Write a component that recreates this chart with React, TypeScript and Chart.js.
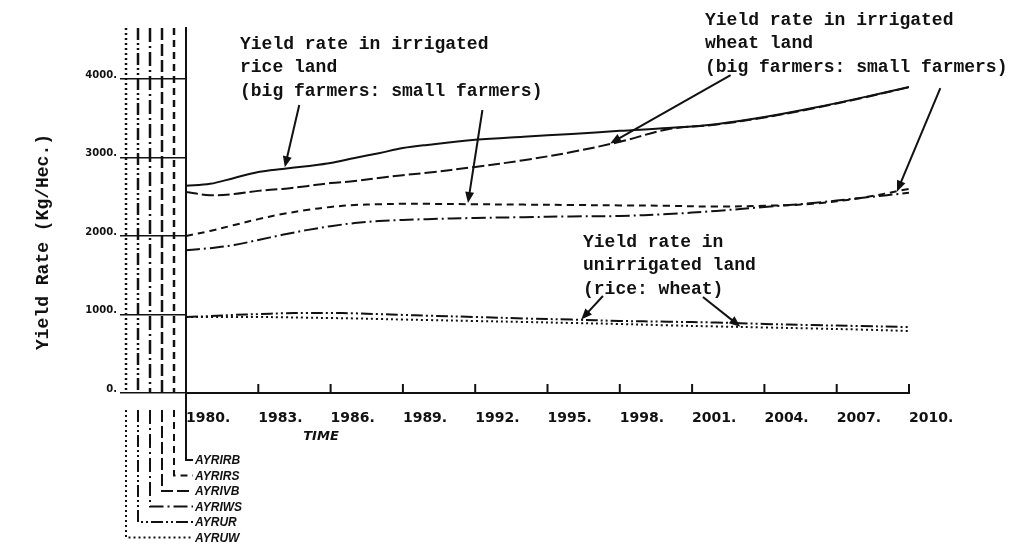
import { useEffect, useRef } from 'react';
import { Chart, registerables } from 'chart.js';

Chart.register(...registerables);

// ---------- data ----------
const years = [1980, 1981, 1982, 1983, 1984, 1985, 1986, 1987, 1988, 1989, 1990, 1992, 1994, 1996, 1998, 2000, 2002, 2004, 2006, 2008, 2010];

const seriesNames = ['AYRIRB', 'AYRIRS', 'AYRIVB', 'AYRIWS', 'AYRUR', 'AYRUW'];

// irrigated rice, big farmers (solid)
const ayrirb = [2640, 2665, 2740, 2815, 2855, 2890, 2930, 2995, 3055, 3120, 3160, 3225, 3265, 3300, 3340, 3375, 3425, 3515, 3630, 3760, 3900];
// irrigated rice, small farmers (short dash)
const ayrirs = [2000, 2065, 2140, 2215, 2280, 2330, 2370, 2395, 2405, 2410, 2410, 2405, 2400, 2395, 2390, 2385, 2375, 2385, 2410, 2485, 2600];
// irrigated wheat, big farmers (long dash)
const ayrivb = [2560, 2520, 2535, 2575, 2600, 2635, 2675, 2700, 2740, 2775, 2805, 2880, 2965, 3070, 3200, 3360, 3420, 3510, 3625, 3755, 3895];
// irrigated wheat, small farmers (dash-dot)
const ayriws = [1820, 1845, 1885, 1950, 2015, 2075, 2125, 2165, 2190, 2205, 2215, 2230, 2240, 2250, 2255, 2280, 2320, 2370, 2420, 2485, 2550];
// unirrigated rice (dash-dot-dot)
const ayrur = [968, 980, 995, 1005, 1015, 1020, 1020, 1015, 1005, 995, 985, 968, 950, 935, 918, 908, 898, 880, 865, 853, 840];
// unirrigated wheat (dotted)
const ayruw = [968, 968, 968, 968, 965, 960, 955, 950, 943, 936, 930, 917, 905, 892, 879, 862, 848, 835, 822, 808, 790];

const seriesValues = [ayrirb, ayrirs, ayrivb, ayriws, ayrur, ayruw];

const xMin = 1980;
const xMax = 2010;
const xStep = 3;
const yTickValues = [0, 1000, 2000, 3000, 4000];
const yMax = 4650;

const yTitle = 'Yield Rate (Kg/Hec.)';
const xTitle = 'TIME';

// ---------- styles ----------
const W = 1028;
const H = 546;
const INK = '#111';
const dashStyles = [[], [7, 5], [12, 4], [14, 4, 2, 4], [12, 3, 2, 3, 2, 3], [2, 3]];

const annotationBlocks = [
  { lines: ['Yield rate in irrigated', 'rice land', '(big farmers: small farmers)'], x: 240, y: 44 },
  { lines: ['Yield rate in irrigated', 'wheat land', '(big farmers: small farmers)'], x: 705, y: 20 },
  { lines: ['Yield rate in', 'unirrigated land', '(rice: wheat)'], x: 583, y: 242 },
];

// arrows in data coordinates: [year, value]
const arrows = [
  { from: [1984.7, 3670], to: [1984.1, 2875] },
  { from: [1992.3, 3605], to: [1991.7, 2420] },
  { from: [2002.6, 4050], to: [1997.6, 3180] },
  { from: [2011.3, 3885], to: [2009.5, 2565] },
  { from: [1997.3, 1236], to: [1996.4, 935] },
  { from: [2001.45, 1223], to: [2003.0, 845] },
];

const decorPlugin = {
  id: 'decor',
  afterDraw(chart: any) {
    const { ctx, chartArea, scales } = chart;
    const xs = scales.x;
    const ys = scales.y;
    const left = chartArea.left;
    const top = chartArea.top;
    const bottom = chartArea.bottom;
    ctx.save();
    ctx.strokeStyle = INK;
    ctx.fillStyle = INK;

    // inward x tick marks
    ctx.lineWidth = 2;
    ctx.setLineDash([]);
    xs.ticks.forEach((t: any) => {
      const px = xs.getPixelForValue(t.value);
      ctx.beginPath();
      ctx.moveTo(px, bottom);
      ctx.lineTo(px, bottom - 9);
      ctx.stroke();
    });

    // series key lines (vertical rules + legend)
    const legendTextX = 195;
    chart.data.datasets.forEach((ds: any, k: number) => {
      const vx = left - 12 * k;
      const ly = 460 + 15.5 * k;
      ctx.lineWidth = 2.5;
      ctx.setLineDash(ds.borderDash || []);
      if (k > 0) {
        ctx.beginPath();
        ctx.moveTo(vx, top);
        ctx.lineTo(vx, bottom);
        ctx.stroke();
      }
      ctx.lineWidth = 2;
      ctx.beginPath();
      ctx.moveTo(vx, k === 0 ? bottom : bottom + 17);
      ctx.lineTo(vx, ly);
      ctx.lineTo(legendTextX - 2, ly);
      ctx.stroke();
      ctx.setLineDash([]);
      ctx.font = 'italic bold 12px "Liberation Sans"';
      ctx.textAlign = 'left';
      ctx.textBaseline = 'middle';
      ctx.fillText(ds.label, legendTextX, ly + 1);
    });

    // annotations
    ctx.setLineDash([]);
    ctx.font = 'bold 18px "Liberation Mono"';
    ctx.textAlign = 'left';
    ctx.textBaseline = 'middle';
    annotationBlocks.forEach((b) => {
      b.lines.forEach((ln, i) => ctx.fillText(ln, b.x, b.y + i * 23.5));
    });

    ctx.lineWidth = 2;
    arrows.forEach((a) => {
      const x1 = xs.getPixelForValue(a.from[0]);
      const y1 = ys.getPixelForValue(a.from[1]);
      const x2 = xs.getPixelForValue(a.to[0]);
      const y2 = ys.getPixelForValue(a.to[1]);
      const ang = Math.atan2(y2 - y1, x2 - x1);
      const hl = 11;
      const hw = 4.5;
      ctx.beginPath();
      ctx.moveTo(x1, y1);
      ctx.lineTo(x2 - Math.cos(ang) * hl * 0.7, y2 - Math.sin(ang) * hl * 0.7);
      ctx.stroke();
      ctx.beginPath();
      ctx.moveTo(x2, y2);
      ctx.lineTo(x2 - Math.cos(ang) * hl - Math.sin(ang) * hw, y2 - Math.sin(ang) * hl + Math.cos(ang) * hw);
      ctx.lineTo(x2 - Math.cos(ang) * hl + Math.sin(ang) * hw, y2 - Math.sin(ang) * hl - Math.cos(ang) * hw);
      ctx.closePath();
      ctx.fill();
    });

    // axis titles
    ctx.font = 'italic bold 13px "DejaVu Sans"';
    ctx.textAlign = 'center';
    ctx.fillText(xTitle, 321, 437);

    ctx.font = 'bold 18px "Liberation Mono"';
    ctx.translate(43, 242);
    ctx.rotate(-Math.PI / 2);
    ctx.textAlign = 'center';
    ctx.textBaseline = 'middle';
    ctx.fillText(yTitle, 0, 0);
    ctx.restore();
  },
};

export default function App() {
  const ref = useRef<HTMLCanvasElement>(null);

  useEffect(() => {
    if (!ref.current) return;
    const chart = new Chart(ref.current, {
      type: 'line',
      data: {
        datasets: seriesNames.map((name, i) => ({
          label: name,
          data: years.map((yr, j) => ({ x: yr, y: seriesValues[i][j] })),
          borderColor: INK,
          borderWidth: 2,
          borderDash: dashStyles[i],
          pointRadius: 0,
          tension: 0.35,
          fill: false,
        })),
      },
      options: {
        responsive: false,
        animation: false,
        devicePixelRatio: 1,
        layout: { padding: { top: 28, right: 119, left: 0, bottom: 0 } },
        plugins: {
          legend: { display: false },
          tooltip: { enabled: false },
        },
        scales: {
          x: {
            type: 'linear',
            min: xMin,
            max: xMax,
            ticks: {
              stepSize: xStep,
              callback: (v: any) => `${v}.`,
              align: 'start',
              padding: 9,
              maxRotation: 0,
              autoSkip: false,
              color: INK,
              font: { family: 'DejaVu Sans', size: 14, weight: 'bold' },
            },
            grid: { display: false },
            border: { display: true, color: INK, width: 2 },
            afterFit: (s: any) => {
              s.height = H - 393;
            },
          },
          y: {
            type: 'linear',
            min: 0,
            max: yMax,
            afterBuildTicks: (s: any) => {
              s.ticks = yTickValues.map((v) => ({ value: v }));
            },
            ticks: {
              callback: (v: any) => `${v}.`,
              padding: 3,
              labelOffset: -4,
              color: INK,
              font: { family: 'DejaVu Sans', size: 10, weight: 'bold' },
            },
            grid: { display: true, drawOnChartArea: false, drawTicks: true, tickLength: 66, color: INK, lineWidth: 1.5 },
            border: { display: true, color: INK, width: 2 },
            afterFit: (s: any) => {
              s.width = 186;
            },
          },
        },
      },
      plugins: [decorPlugin],
    });
    return () => chart.destroy();
  }, []);

  return (
    <div style={{ position: 'absolute', left: 0, top: 0, width: W, height: H, background: '#fff' }}>
      <canvas ref={ref} width={W} height={H} style={{ width: W, height: H, display: 'block' }} />
    </div>
  );
}
